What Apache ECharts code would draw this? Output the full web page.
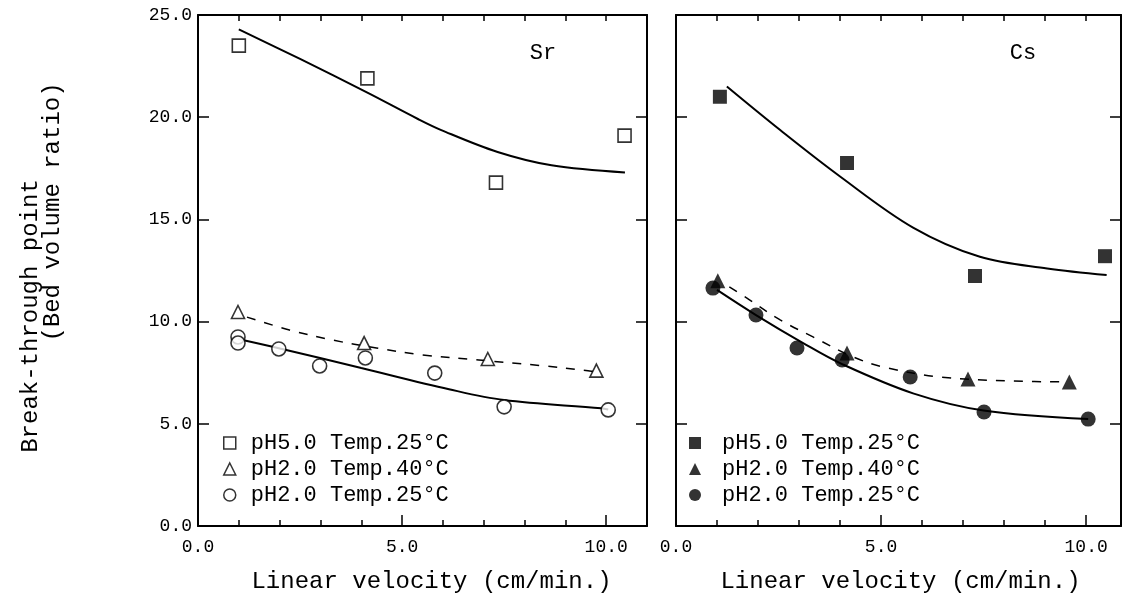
<!DOCTYPE html>
<html>
<head>
<meta charset="utf-8">
<script src="https://cdn.jsdelivr.net/npm/echarts@6/dist/echarts.min.js"></script>
<style>html,body{margin:0;padding:0;background:#fff;}#c{width:1125px;height:601px;}</style>
</head>
<body>
<div id="c"></div>
<script>
// ---- Data ----
// Sr panel
var srPH5x = [1.0, 4.15, 7.3, 10.45];
var srPH5y = [23.5, 21.9, 16.8, 19.1];
var srPH2T40x = [0.98, 4.07, 7.1, 9.76];
var srPH2T40y = [10.47, 8.95, 8.17, 7.6];
var srPH2T25x = [0.98, 0.98, 1.98, 2.98, 4.1, 5.8, 7.5, 10.05];
var srPH2T25y = [9.25, 8.95, 8.66, 7.83, 8.22, 7.48, 5.83, 5.68];
// Sr fitted curves
var srFitPH5x = [1.0, 2.5, 4.15, 5.4, 5.96, 7.34, 8.66, 10.46];
var srFitPH5y = [24.3, 22.85, 21.2, 19.9, 19.37, 18.3, 17.65, 17.3];
var srFitT40x = [1.2, 2.24, 3.29, 4.37, 5.49, 6.88, 8.4, 9.4, 9.76];
var srFitT40y = [10.22, 9.59, 9.1, 8.71, 8.37, 8.12, 7.85, 7.63, 7.53];
var srFitT25x = [0.98, 1.98, 4.0, 6.15, 7.5, 9.88, 10.05];
var srFitT25y = [9.15, 8.7, 7.73, 6.69, 6.16, 5.76, 5.7];
// Cs panel
var csPH5x = [1.07, 4.17, 7.29, 10.46];
var csPH5y = [21.0, 17.76, 12.23, 13.2];
var csPH2T40x = [1.02, 4.17, 7.12, 9.59];
var csPH2T40y = [12.0, 8.46, 7.19, 7.05];
var csPH2T25x = [0.9, 1.95, 2.95, 4.05, 5.71, 7.51, 10.05];
var csPH2T25y = [11.64, 10.32, 8.71, 8.12, 7.29, 5.58, 5.23];
// Cs fitted curves
var csFitPH5x = [1.24, 2.54, 4.0, 5.78, 7.41, 9.05, 10.5];
var csFitPH5y = [21.5, 19.37, 17.1, 14.6, 13.17, 12.6, 12.28];
var csFitT40x = [1.3, 1.73, 2.54, 3.34, 4.32, 5.05, 6.44, 8.22, 9.54];
var csFitT40y = [11.7, 11.15, 10.08, 9.25, 8.27, 7.78, 7.29, 7.09, 7.05];
var csFitT25x = [1.0, 1.95, 3.1, 4.05, 5.78, 7.5, 10.05];
var csFitT25y = [11.55, 10.32, 8.95, 7.92, 6.49, 5.65, 5.23];

// Labels
var seriesNames = ['pH5.0 Temp.25°C', 'pH2.0 Temp.40°C', 'pH2.0 Temp.25°C'];
var xTickLabels = [0, 5, 10];
var yTickLabels = [0, 5, 10, 15, 20, 25];
var xTitle = 'Linear velocity (cm/min.)';
var yTitle1 = 'Break-through point';
var yTitle2 = '(Bed volume ratio)';
var panelLabels = ['Sr', 'Cs'];

function zip(xs, ys) { return xs.map(function (x, i) { return [x, ys[i]]; }); }

var FONT = 'Liberation Mono';
var BLACK = '#000';

function xAxes(gi, max, shift) {
  return [{
    type: 'value', gridIndex: gi, position: 'bottom', min: 0, max: max, interval: 5,
    axisLine: { show: true, onZero: false, lineStyle: { color: BLACK, width: 2 } },
    axisTick: { show: true, inside: true, length: 11, lineStyle: { color: BLACK, width: 1.5 } },
    minorTick: { show: true, splitNumber: 5, length: 6, lineStyle: { color: BLACK, width: 1.5 } },
    splitLine: { show: false },
    axisLabel: {
      color: BLACK, fontFamily: FONT, fontSize: 18, margin: 12,
      formatter: function (v) { return xTickLabels.indexOf(Math.round(v * 1000) / 1000) >= 0 ? v.toFixed(1) : ''; }
    },
    name: xTitle, nameLocation: 'middle', nameGap: 44,
    nameTextStyle: { color: BLACK, fontFamily: FONT, fontSize: 24, padding: [0, 0, 0, shift] }
  }, {
    type: 'value', gridIndex: gi, position: 'top', min: 0, max: max, interval: 1,
    axisLine: { show: true, onZero: false, lineStyle: { color: BLACK, width: 2 } },
    axisTick: { show: true, inside: true, length: 6, lineStyle: { color: BLACK, width: 1.5 } },
    splitLine: { show: false }, axisLabel: { show: false }
  }];
}
function yAxes(gi, labels) {
  return [{
    type: 'value', gridIndex: gi, position: 'left', min: 0, max: 25, interval: 5,
    axisLine: { show: true, onZero: false, lineStyle: { color: BLACK, width: 2 } },
    axisTick: { show: true, inside: true, length: 11, lineStyle: { color: BLACK, width: 1.5 } },
    splitLine: { show: false },
    axisLabel: {
      show: labels, color: BLACK, fontFamily: FONT, fontSize: 18, margin: 6,
      formatter: function (v) { return yTickLabels.indexOf(v) >= 0 ? v.toFixed(1) : ''; }
    }
  }, {
    type: 'value', gridIndex: gi, position: 'right', min: 0, max: 25, interval: 5,
    axisLine: { show: true, onZero: false, lineStyle: { color: BLACK, width: 2 } },
    axisTick: { show: true, inside: true, length: 11, lineStyle: { color: BLACK, width: 1.5 } },
    splitLine: { show: false }, axisLabel: { show: false }
  }];
}

var xa = xAxes(0, 11, 18).concat(xAxes(1, 10.85, 4));
var ya = yAxes(0, true).concat(yAxes(1, false));

function scatter(name, xi, yi, data, symbol, size, filled) {
  return {
    type: 'scatter', name: name, xAxisIndex: xi, yAxisIndex: yi, data: data,
    symbol: symbol, symbolSize: size, z: 5,
    itemStyle: filled ? { color: BLACK } : { color: '#fff', borderColor: BLACK, borderWidth: 1.6 },
    emphasis: { disabled: true }
  };
}
function curve(name, xi, yi, data, dashed) {
  return {
    type: 'line', name: name, xAxisIndex: xi, yAxisIndex: yi, data: data,
    smooth: 0.35, symbol: 'none', z: 3,
    lineStyle: { color: BLACK, width: dashed ? 1.5 : 2, type: dashed ? [9, 9] : 'solid' },
    emphasis: { disabled: true }
  };
}

var series = [
  curve('Sr fit pH5.0 25', 0, 0, zip(srFitPH5x, srFitPH5y), false),
  curve('Sr fit pH2.0 40', 0, 0, zip(srFitT40x, srFitT40y), true),
  curve('Sr fit pH2.0 25', 0, 0, zip(srFitT25x, srFitT25y), false),
  scatter(seriesNames[0], 0, 0, zip(srPH5x, srPH5y), 'rect', 13, false),
  scatter(seriesNames[1], 0, 0, zip(srPH2T40x, srPH2T40y), 'triangle', 13, false),
  scatter(seriesNames[2], 0, 0, zip(srPH2T25x, srPH2T25y), 'circle', 14, false),
  curve('Cs fit pH5.0 25', 2, 2, zip(csFitPH5x, csFitPH5y), false),
  curve('Cs fit pH2.0 40', 2, 2, zip(csFitT40x, csFitT40y), true),
  curve('Cs fit pH2.0 25', 2, 2, zip(csFitT25x, csFitT25y), false),
  scatter(seriesNames[0], 2, 2, zip(csPH5x, csPH5y), 'rect', 14, true),
  scatter(seriesNames[1], 2, 2, zip(csPH2T40x, csPH2T40y), 'triangle', 15, true),
  scatter(seriesNames[2], 2, 2, zip(csPH2T25x, csPH2T25y), 'circle', 15, true)
];

function legend(left, filled, pad) {
  var st = filled ? { color: BLACK, borderWidth: 0 } : { color: '#fff', borderColor: BLACK, borderWidth: 1.5 };
  var icons = ['rect', 'triangle', 'circle'];
  return {
    orient: 'vertical', left: left, top: 427, itemWidth: 12, itemHeight: 12, itemGap: 4,
    selectedMode: false, inactiveColor: BLACK,
    textStyle: { color: BLACK, fontFamily: FONT, fontSize: 22, lineHeight: 22, padding: [0, 0, 0, pad] },
    data: seriesNames.map(function (n, i) {
      return { name: n, icon: icons[i], itemStyle: st };
    })
  };
}

var option = {
  backgroundColor: '#fff',
  animation: false,
  grid: [
    { left: 198, top: 15, width: 449, height: 511 },
    { left: 676, top: 15, width: 445, height: 511 }
  ],
  xAxis: [xa[0], xa[1], xa[2], xa[3]],
  yAxis: [ya[0], ya[1], ya[2], ya[3]],
  legend: [legend(218, false, 10), legend(684, true, 16)],
  series: series,
  graphic: [
    { type: 'text', x: 543, y: 53, style: { text: panelLabels[0], font: '22px "' + FONT + '"', fill: BLACK, align: 'center', verticalAlign: 'middle' } },
    { type: 'text', x: 1023, y: 53, style: { text: panelLabels[1], font: '22px "' + FONT + '"', fill: BLACK, align: 'center', verticalAlign: 'middle' } },
    { type: 'text', x: 31, y: 316, rotation: Math.PI / 2, style: { text: yTitle1, font: '24px "' + FONT + '"', fill: BLACK, align: 'center', verticalAlign: 'middle' } },
    { type: 'text', x: 53, y: 212, rotation: Math.PI / 2, style: { text: yTitle2, font: '24px "' + FONT + '"', fill: BLACK, align: 'center', verticalAlign: 'middle' } }
  ]
};

var chart = echarts.init(document.getElementById('c'), null, { renderer: 'canvas' });
chart.setOption(option);
</script>
</body>
</html>
